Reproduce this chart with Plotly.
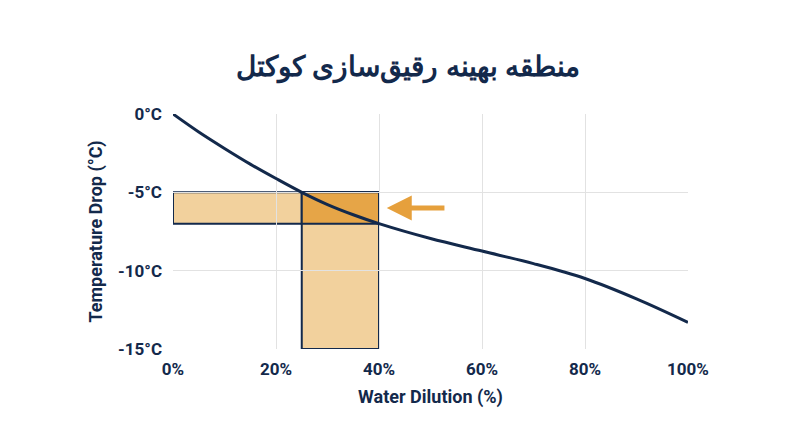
import plotly.graph_objects as go

curve_x = [0, 5, 10, 15, 20, 25, 30, 35, 40, 50, 60, 70, 80, 90, 100]
curve_y = [0, -1.15, -2.2, -3.2, -4.12, -5.0, -5.78, -6.43, -7.0, -7.95, -8.75, -9.55, -10.5, -11.8, -13.3]

band_h = dict(x0=0, x1=40, y0=-5, y1=-7)
band_v = dict(x0=25, x1=40, y0=-5, y1=-15)
overlap = dict(x0=25, x1=40, y0=-5, y1=-7)
arrow_x = [53, 41.5]
arrow_y = -6

navy = "#13294b"
fig = go.Figure()
fig.add_trace(go.Scatter(x=curve_x, y=curve_y, mode="lines", line=dict(color=navy, width=3, shape="spline"),
                         showlegend=False, hoverinfo="skip"))

for b, col in [(band_h, "#f2d19d"), (band_v, "#f2d19d"), (overlap, "#e6a547")]:
    fig.add_shape(type="rect", xref="x", yref="y", layer="below", fillcolor=col,
                  line=dict(color=navy, width=2), **b)

fig.add_annotation(x=arrow_x[1], y=arrow_y, ax=arrow_x[0], ay=arrow_y, xref="x", yref="y", axref="x", ayref="y",
                   text="", showarrow=True, arrowhead=2, arrowsize=1, arrowwidth=5, arrowcolor="#e6a03c")

font = "Roboto"
fig.update_layout(
    width=800, height=447, paper_bgcolor="white", plot_bgcolor="white",
    margin=dict(l=165, r=120, t=106, b=106),
    title=dict(text="<b>منطقه بهینه رقیق‌سازی کوکتل</b>", x=0.5, y=0.87, xanchor="center", yanchor="middle",
               font=dict(family="Noto Sans", size=28, color=navy)),
    font=dict(family=font, color=navy),
)
fig.update_xaxes(range=[0, 100], tickvals=[0, 20, 40, 60, 80, 100],
                 ticktext=["0%", "20%", "40%", "60%", "80%", "100%"],
                 showgrid=True, gridcolor="#e2e2e2", zeroline=False, showline=False,
                 tickfont=dict(size=17, family=font, color=navy, weight="bold"), ticklabelstandoff=8,
                 title=dict(text="<b>Water Dilution (%)</b>", font=dict(size=18, color=navy), standoff=12))
fig.update_yaxes(range=[-15, 0], tickvals=[0, -5, -10, -15],
                 ticktext=["0°C", "-5°C", "-10°C", "-15°C"],
                 showgrid=True, gridcolor="#e2e2e2", zeroline=False, showline=False,
                 tickfont=dict(size=17, family=font, color=navy, weight="bold"), ticklabelstandoff=10,
                 title=dict(text="<b>Temperature Drop (°C)</b>", font=dict(size=18, color=navy), standoff=10))
fig.write_html("out.html")
